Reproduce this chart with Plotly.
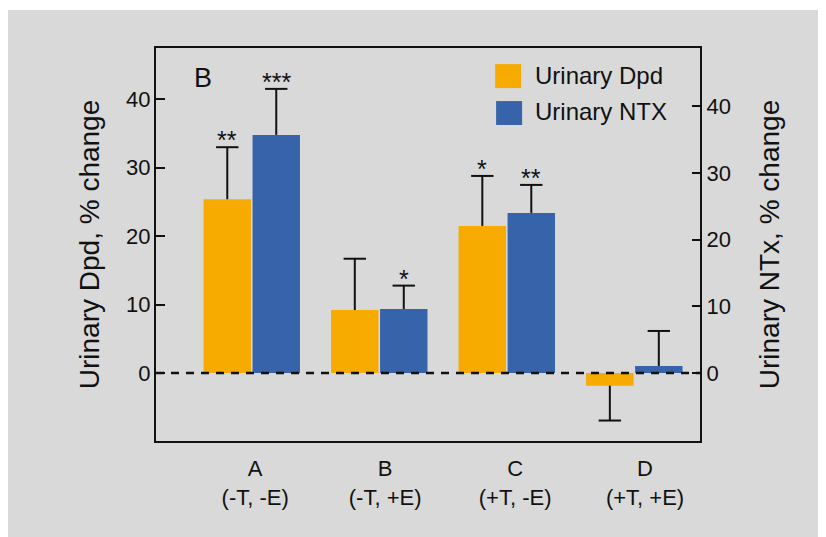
import plotly.graph_objects as go

# ---- data ----
categories = ["A", "B", "C", "D"]
conditions = ["(-T, -E)", "(-T, +E)", "(+T, -E)", "(+T, +E)"]
dpd_values = [25.4, 9.2, 21.5, -1.85]
dpd_errors = [7.6, 7.5, 7.3, 5.1]
ntx_values = [35.7, 9.6, 24.0, 1.05]
ntx_errors = [6.9, 3.5, 4.2, 5.25]
dpd_signif = ["**", "", "*", ""]
ntx_signif = ["***", "*", "**", ""]
y_ticks = [0, 10, 20, 30, 40]

FONT = "Liberation Sans, Arial, Helvetica, sans-serif"
ORANGE = "#f7ab00"
BLUE = "#3763aa"
GRAY = "#d9d9d9"
INK = "#111111"

x_idx = list(range(len(categories)))
bar_w = 0.372
dpd_off = -0.378
ntx_off = 0.006


def err_arrays(vals, errs):
    up = [e if v >= 0 else 0 for v, e in zip(vals, errs)]
    down = [e if v < 0 else 0 for v, e in zip(vals, errs)]
    return up, down


def cap_ends(vals, errs):
    return [v + e if v >= 0 else v - e for v, e in zip(vals, errs)]


dpd_up, dpd_down = err_arrays(dpd_values, dpd_errors)
ntx_up, ntx_down = err_arrays(ntx_values, ntx_errors)

fig = go.Figure()
fig.add_trace(go.Bar(
    x=x_idx, y=dpd_values, name="Urinary Dpd", marker=dict(color=ORANGE, line=dict(width=0)),
    width=bar_w, offset=dpd_off, yaxis="y",
    error_y=dict(type="data", symmetric=False, array=dpd_up, arrayminus=dpd_down,
                 color=INK, thickness=2, width=0),
    showlegend=False,
))
fig.add_trace(go.Bar(
    x=x_idx, y=ntx_values, name="Urinary NTX", marker=dict(color=BLUE, line=dict(width=0)),
    width=bar_w, offset=ntx_off, yaxis="y2",
    error_y=dict(type="data", symmetric=False, array=ntx_up, arrayminus=ntx_down,
                 color=INK, thickness=2, width=0),
    showlegend=False,
))
# error-bar caps (only at the outer end)
fig.add_trace(go.Scatter(
    x=[i + dpd_off + bar_w / 2 for i in x_idx], y=cap_ends(dpd_values, dpd_errors),
    mode="markers", yaxis="y", showlegend=False, hoverinfo="skip",
    marker=dict(symbol="line-ew", size=16, line=dict(color=INK, width=2)),
))
fig.add_trace(go.Scatter(
    x=[i + ntx_off + bar_w / 2 for i in x_idx], y=cap_ends(ntx_values, ntx_errors),
    mode="markers", yaxis="y2", showlegend=False, hoverinfo="skip",
    marker=dict(symbol="line-ew", size=16, line=dict(color=INK, width=2)),
))

annotations = []
for i in x_idx:
    if dpd_signif[i]:
        annotations.append(dict(
            x=i + dpd_off + bar_w / 2, y=dpd_values[i] + dpd_errors[i], xref="x", yref="y",
            text=dpd_signif[i], showarrow=False, yanchor="middle", yshift=7,
            font=dict(family=FONT, size=25, color=INK)))
    if ntx_signif[i]:
        annotations.append(dict(
            x=i + ntx_off + bar_w / 2, y=ntx_values[i] + ntx_errors[i], xref="x", yref="y2",
            text=ntx_signif[i], showarrow=False, yanchor="middle", yshift=7,
            font=dict(family=FONT, size=25, color=INK)))

# panel letter
annotations.append(dict(x=0.087, y=0.924, xref="paper", yref="paper", text="B",
                        showarrow=False, xanchor="center", yanchor="middle",
                        font=dict(family=FONT, size=27, color=INK)))
# legend text
annotations.append(dict(x=0.693, y=0.929, xref="paper", yref="paper", text="Urinary Dpd",
                        showarrow=False, xanchor="left", yanchor="middle",
                        font=dict(family=FONT, size=24, color=INK)))
annotations.append(dict(x=0.693, y=0.838, xref="paper", yref="paper", text="Urinary NTX",
                        showarrow=False, xanchor="left", yanchor="middle",
                        font=dict(family=FONT, size=24, color=INK)))

shapes = [
    # dashed zero line
    dict(type="line", xref="paper", x0=0, x1=1, yref="y", y0=0, y1=0,
         line=dict(color=INK, width=2.5, dash="8px,7px"), layer="above"),
    # legend swatches
    dict(type="rect", xref="paper", yref="paper", x0=0.6234, x1=0.6711, y0=0.898, y1=0.959,
         fillcolor=ORANGE, line=dict(width=0)),
    dict(type="rect", xref="paper", yref="paper", x0=0.6252, x1=0.6730, y0=0.804, y1=0.865,
         fillcolor=BLUE, line=dict(width=0)),
    # thin white strip at the top of the image
    dict(type="rect", xref="paper", yref="paper", x0=-0.4, x1=1.4, y0=1.0967, y1=1.2,
         fillcolor="white", line=dict(width=0)),
]

tick_font = dict(family=FONT, size=22, color=INK)

fig.update_layout(
    width=818, height=529,
    margin=dict(l=148, r=126, t=40, b=96),
    paper_bgcolor=GRAY, plot_bgcolor=GRAY,
    barmode="overlay",
    showlegend=False,
    font=dict(family=FONT, color=INK),
    xaxis=dict(
        range=[-0.751, 3.515],
        tickvals=[i + 0.027 + 0.019 * i for i in x_idx],
        ticktext=[f"{c}<br>{t}" for c, t in zip(categories, conditions)],
        tickfont=dict(family=FONT, size=22, color=INK),
        showline=True, linecolor=INK, linewidth=2, mirror=True,
        ticks="", showgrid=False, zeroline=False, ticklabelstandoff=7,
    ),
    yaxis=dict(
        range=[-9.94, 47.5], tickvals=y_ticks, tickfont=tick_font,
        showline=True, linecolor=INK, linewidth=2,
        ticks="inside", ticklen=9, tickwidth=2, tickcolor=INK,
        showgrid=False, zeroline=False, ticklabelstandoff=-1,
        title=dict(text="Urinary Dpd, % change", font=dict(family=FONT, size=28, color=INK),
                   standoff=18),
    ),
    yaxis2=dict(
        range=[-10.2, 48.73], tickvals=y_ticks, tickfont=tick_font,
        overlaying="y", side="right",
        showline=True, linecolor=INK, linewidth=2,
        ticks="inside", ticklen=8, tickwidth=2, tickcolor=INK,
        showgrid=False, zeroline=False,
        title=dict(text="Urinary NTx, % change", font=dict(family=FONT, size=28, color=INK),
                   standoff=30),
    ),
    annotations=annotations,
    shapes=shapes,
)

fig.write_html("out.html")
